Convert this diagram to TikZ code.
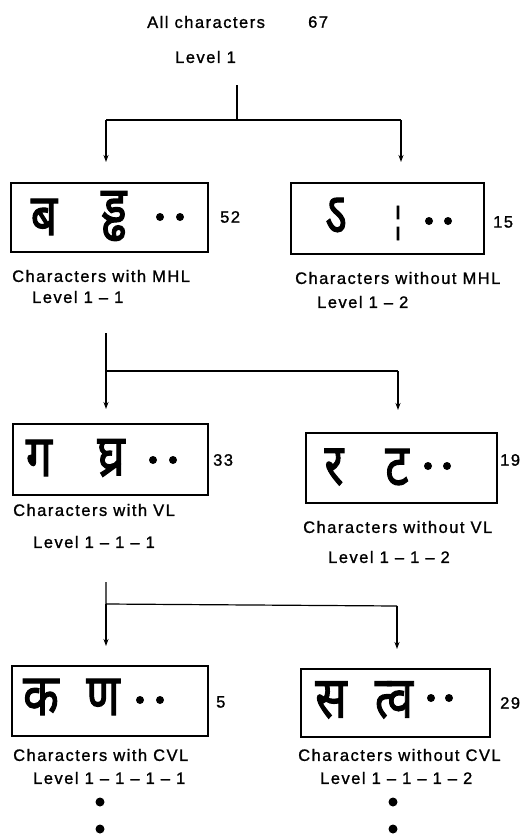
\documentclass[tikz,border=0pt]{standalone}
\usepackage{fontspec}
\setmainfont{Liberation Sans}[LetterSpace=9, FakeBold=1.2]
\newfontfamily\deva[Script=Devanagari, FakeBold=2]{Noto Sans}
\usetikzlibrary{arrows.meta}
\newcommand\dg[1]{\scalebox{0.8}[1]{\deva #1}}
\begin{document}
\begin{tikzpicture}[x=1pt,y=-1pt,
  lbl/.style={inner sep=0pt, font=\fontsize{16.5}{19}\selectfont, anchor=west},
  box/.style={draw, line width=1.2pt, inner sep=0pt},
  glyph/.style={inner sep=0pt, font=\fontsize{58}{62}\selectfont},
  dot/.style={circle, fill, inner sep=0pt, minimum size=8pt},
  bigdot/.style={circle, fill, inner sep=0pt, minimum size=9pt},
  line/.style={line width=1.2pt},
  arr/.style={line width=1.2pt, -{Stealth[length=7pt,width=5pt]}},
]
\useasboundingbox (0,0) rectangle (527,839);

% title
\node[lbl] (title) at (147,22) {All characters};
\node[lbl] (n67) at (308,22) {67};
\node[lbl] (lev0) at (175,57) {Level 1};

% boxes
\node[box, minimum width=197pt, minimum height=69pt] (b1) at (109.5,217.5) {};
\node[box, minimum width=193pt, minimum height=71pt] (b2) at (387.5,218.5) {};
\node[box, minimum width=195pt, minimum height=71pt] (b3) at (110.5,459.5) {};
\node[box, minimum width=191pt, minimum height=70pt] (b4) at (401.5,468) {};
\node[box, minimum width=196pt, minimum height=70pt] (b5) at (110,701) {};
\node[box, minimum width=189pt, minimum height=68pt] (b6) at (395.5,703) {};

% glyphs
\node[glyph] (g1a) at (44,217) {\dg{ब}};
\node[glyph] (g1b) at (114,216) {\dg{ड्ढ}};
\node[dot] (d1a) at (160,217) {};
\node[dot] (d1b) at (180,217) {};
\node[glyph] (g2a) at (336,216) {\dg{ऽ}};
\node[inner sep=0pt, font=\fontsize{34}{38}\selectfont] (g2b) at (398,223) {\dg{¦}};
\node[dot] (d2a) at (429,221) {};
\node[dot] (d2b) at (448,221) {};
\node[glyph] (g3a) at (39,458) {\dg{ग}};
\node[glyph] (g3b) at (111,458) {\dg{घ्र}};
\node[dot] (d3a) at (153,460) {};
\node[dot] (d3b) at (173,460) {};
\node[glyph] (g4a) at (334,467) {\dg{र}};
\node[glyph] (g4b) at (397,467) {\dg{ट}};
\node[dot] (d4a) at (428,466) {};
\node[dot] (d4b) at (447,466) {};
\node[glyph] (g5a) at (41,697) {\dg{क}};
\node[glyph] (g5b) at (103,697) {\dg{ण}};
\node[dot] (d5a) at (140,700) {};
\node[dot] (d5b) at (160,700) {};
\node[glyph] (g6a) at (331,700) {\dg{स}};
\node[glyph] (g6b) at (394,700) {\dg{त्व}};
\node[dot] (d6a) at (431,698) {};
\node[dot] (d6b) at (449,698) {};

% counts
\node[lbl] (c1) at (220,217) {52};
\node[lbl] (c2) at (493,222) {15};
\node[lbl] (c3) at (213,460) {33};
\node[lbl] (c4) at (500,460) {19};
\node[lbl] (c5) at (216,702) {5};
\node[lbl] (c6) at (500,703) {29};

% labels
\node[lbl] (l1) at (12,276) {Characters with MHL};
\node[lbl] (v1) at (32,297) {Level 1 – 1};
\node[lbl] (l2) at (295,278) {Characters without MHL};
\node[lbl] (v2) at (317,302) {Level 1 – 2};
\node[lbl] (l3) at (13,510) {Characters with VL};
\node[lbl] (v3) at (33,542) {Level 1 – 1 – 1};
\node[lbl] (l4) at (303,527) {Characters without VL};
\node[lbl] (v4) at (328,557) {Level 1 – 1 – 2};
\node[lbl] (l5) at (13,755) {Characters with CVL};
\node[lbl] (v5) at (33,778) {Level 1 – 1 – 1 – 1};
\node[lbl] (l6) at (298,755) {Characters without CVL};
\node[lbl] (v6) at (320,778) {Level 1 – 1 – 1 – 2};

% connectors
\coordinate (s0) at (237,85);
\coordinate (j0) at (237,120);
\coordinate (h0l) at (106,120);
\coordinate (h0r) at (401,120);
\coordinate (t1) at (106,162);
\coordinate (t2) at (401,162);
\draw[line] (s0) -- (j0);
\draw[line] (h0l) -- (h0r);
\draw[arr] (h0l) -- (t1);
\draw[arr] (h0r) -- (t2);

\coordinate (s1) at (106,333);
\coordinate (j1) at (106,371);
\coordinate (h1r) at (398,371);
\coordinate (t3) at (106,409);
\coordinate (t4) at (398,410);
\draw[line] (s1) -- (j1) -- (h1r);
\draw[arr] (j1) -- (t3);
\draw[arr] (h1r) -- (t4);

\coordinate (s2) at (106,582);
\coordinate (j2) at (106,604);
\coordinate (h2r) at (397,606);
\coordinate (t5) at (106,646);
\coordinate (t6) at (397,649);
\draw[line] (s2) -- (j2) -- (h2r);
\draw[arr] (j2) -- (t5);
\draw[arr] (h2r) -- (t6);

% continuation dots
\node[bigdot] (e1) at (100,802) {};
\node[bigdot] (e2) at (100,829) {};
\node[bigdot] (e3) at (393,802) {};
\node[bigdot] (e4) at (393,829) {};
\end{tikzpicture}
\end{document}
